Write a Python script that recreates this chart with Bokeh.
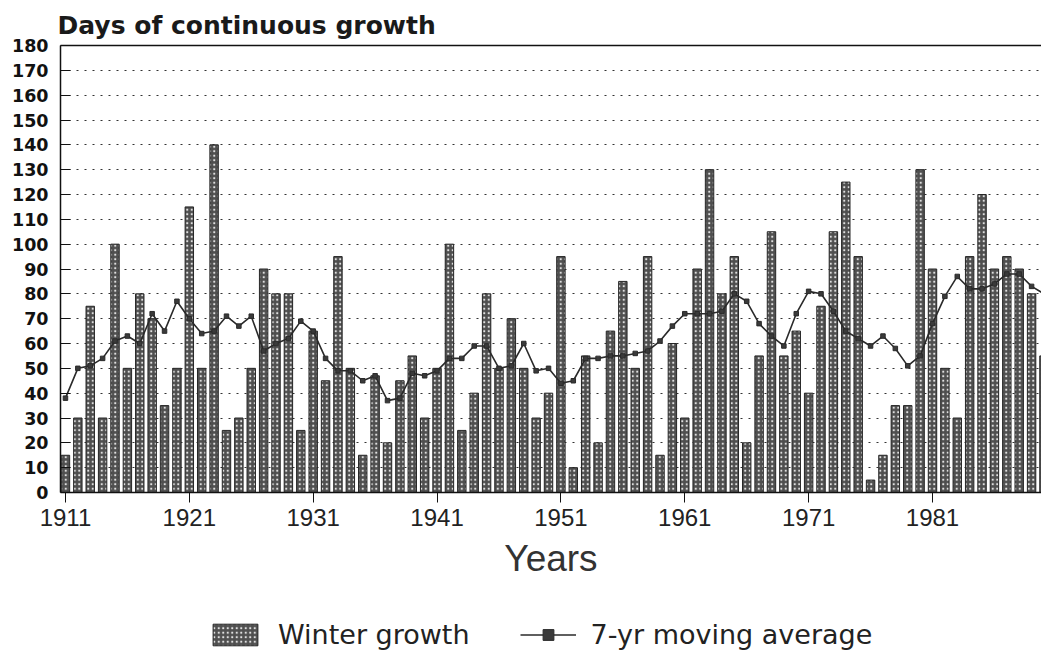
from bokeh.plotting import figure
from bokeh.models import FixedTicker, LinearAxis, Legend, LegendItem, Range1d
from bokeh.layouts import column
from bokeh.embed import file_html
from bokeh.resources import INLINE

years = list(range(1911, 1991))
winter_growth = [
    15, 30, 75, 30, 100, 50, 80, 70, 35, 50,
    115, 50, 140, 25, 30, 50, 90, 80, 80, 25,
    65, 45, 95, 50, 15, 47, 20, 45, 55, 30,
    50, 100, 25, 40, 80, 50, 70, 50, 30, 40,
    95, 10, 55, 20, 65, 85, 50, 95, 15, 60,
    30, 90, 130, 80, 95, 20, 55, 105, 55, 65,
    40, 75, 105, 125, 95, 5, 15, 35, 35, 130,
    90, 50, 30, 95, 120, 90, 95, 90, 80, 55,
]
moving_avg = [
    38, 50, 51, 54, 61, 63, 60, 72, 65, 77,
    70, 64, 65, 71, 67, 71, 57, 60, 62, 69,
    65, 54, 49, 49, 45, 47, 37, 38, 48, 47,
    49, 54, 54, 59, 59, 50, 51, 60, 49, 50,
    44, 45, 54, 54, 55, 55, 56, 57, 61, 67,
    72, 72, 72, 73, 80, 77, 68, 63, 59, 72,
    81, 80, 73, 65, 62, 59, 63, 58, 51, 55,
    68, 79, 87, 82, 82, 84, 88, 88, 83, 80,
]
x_ticks = [1911, 1921, 1931, 1941, 1951, 1961, 1971, 1981]
y_ticks = list(range(0, 190, 10))
title_text = "Days of continuous growth"
x_label = "Years"
bar_label = "Winter growth"
line_label = "7-yr moving average"

BAR_STYLE = dict(fill_color="#4f4f4f", line_color="#262626", line_width=1,
                 hatch_pattern="dot", hatch_color="#e0e0e0", hatch_scale=4.5, hatch_weight=1.3)
LINE_STYLE = dict(line_color="#2a2a2a", line_width=1.6)
MARK_STYLE = dict(marker="square", size=4.5, fill_color="#3a3a3a", line_color="#2a2a2a")

p = figure(frame_width=981, frame_height=447, output_backend="svg", toolbar_location=None,
           x_range=Range1d(1910.6, 1989.8), y_range=Range1d(0, 180),
           min_border_left=60, min_border_top=45, min_border_right=0, min_border_bottom=100)
p.outline_line_color = None
p.background_fill_color = "white"

p.title.text = title_text
p.title.align = "left"
p.title.offset = -3
p.title.standoff = 11
p.title.text_font = "DejaVu Sans"
p.title.text_font_style = "bold"
p.title.text_font_size = "25px"
p.title.text_color = "#1a1a1a"

p.vbar(x=years, top=winter_growth, width=0.68, **BAR_STYLE)
p.line(years, moving_avg, **LINE_STYLE)
p.scatter(years, moving_avg, **MARK_STYLE)

# axes
p.xaxis.ticker = FixedTicker(ticks=x_ticks)
p.xaxis.minor_tick_line_color = None
p.xaxis.major_tick_out = 10
p.xaxis.major_tick_in = 0
p.xaxis.major_label_standoff = 6
p.xaxis.major_label_text_font = "Liberation Sans"
p.xaxis.major_label_text_font_size = "24px"
p.xaxis.major_label_text_color = "#222222"
p.xaxis.axis_line_color = "#111111"
p.xaxis.axis_line_width = 1.5
p.xaxis.major_tick_line_color = "#111111"
p.xaxis.axis_label = x_label
p.xaxis.axis_label_text_font = "Liberation Sans"
p.xaxis.axis_label_text_font_style = "normal"
p.xaxis.axis_label_text_font_size = "37px"
p.xaxis.axis_label_text_color = "#333333"
p.xaxis.axis_label_standoff = 9

p.yaxis.ticker = FixedTicker(ticks=y_ticks)
p.yaxis.minor_tick_line_color = None
p.yaxis.major_tick_in = 10
p.yaxis.major_tick_out = 0
p.yaxis.major_label_standoff = 12
p.yaxis.major_label_text_font = "DejaVu Sans"
p.yaxis.major_label_text_font_style = "bold"
p.yaxis.major_label_text_font_size = "17.5px"
p.yaxis.major_label_text_color = "#111111"
p.yaxis.axis_line_color = "#111111"
p.yaxis.axis_line_width = 1.5
p.yaxis.major_tick_line_color = "#111111"

top_axis = LinearAxis(ticker=FixedTicker(ticks=[]), major_label_text_font_size="0px",
                      major_tick_line_color=None, minor_tick_line_color=None,
                      major_tick_out=0, major_tick_in=0, major_label_standoff=0,
                      axis_line_color="#111111", axis_line_width=1.5)
p.add_layout(top_axis, "above")

p.xgrid.grid_line_color = None
p.ygrid.ticker = FixedTicker(ticks=list(range(10, 180, 10)))
p.ygrid.grid_line_color = "#333333"
p.ygrid.grid_line_dash = "2 6"
p.ygrid.grid_line_width = 1.2

# legend strip below the chart (its sample glyphs sit outside the visible range)
lg = figure(width=1041, height=65, output_backend="svg", toolbar_location=None,
            x_axis_type=None, y_axis_type=None, min_border=0,
            x_range=Range1d(0, 1), y_range=Range1d(0, 1))
lg.outline_line_color = None
lg.xgrid.grid_line_color = None
lg.ygrid.grid_line_color = None
lb = lg.vbar(x=[5], top=[5], width=0.5, **BAR_STYLE)
ll = lg.line(x=[5, 6], y=[5, 5], **LINE_STYLE)
lm = lg.scatter(x=[5], y=[5], marker="square", size=3.5, fill_color="#3a3a3a", line_color="#2a2a2a")
legend = Legend(items=[LegendItem(label=bar_label, renderers=[lb]),
                       LegendItem(label=line_label, renderers=[ll, lm])],
                orientation="horizontal", location=(147, 7),
                glyph_width=56, glyph_height=27, label_standoff=15, spacing=50,
                label_text_font="DejaVu Sans", label_text_font_size="27px",
                label_text_color="#222222", border_line_color=None,
                background_fill_alpha=0, padding=0, margin=0)
lg.add_layout(legend, "center")

open("out.html", "w").write(file_html(column(p, lg, spacing=0), INLINE))
